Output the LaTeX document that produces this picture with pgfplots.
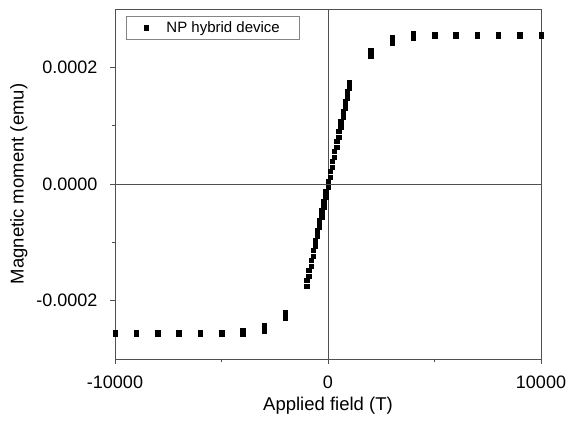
\documentclass[border=0pt]{standalone}
\usepackage{fontspec}
\setmainfont{Liberation Sans}
\usepackage{pgfplots}
\pgfplotsset{compat=1.18}
\definecolor{frame}{RGB}{80,80,80}

\begin{document}
\begin{tikzpicture}
\begin{axis}[
    name=ax,
    scale only axis,
    width=426pt, height=350pt,
    xmin=-10000, xmax=10000,
    ymin=-0.0003, ymax=0.0003,
    xtick={-10000,0,10000},
    minor xtick={-5000,5000},
    ytick={-0.0002,0,0.0002},
    minor ytick={-0.0001,0.0001},
    scaled x ticks=false, scaled y ticks=false,
    xticklabel style={/pgf/number format/1000 sep={}, yshift=-8pt},
    yticklabel style={/pgf/number format/.cd, fixed, fixed zerofill, precision=4,
        /tikz/.cd, xshift=-9pt},
    /pgf/number format/assume math mode=true,
    tick align=outside, tick pos=left,
    major tick length=5pt, minor tick length=3pt,
    axis line style={frame, line width=0.9pt},
    every tick/.style={frame, line width=0.9pt},
    tick label style={font=\fontsize{18}{21}\selectfont},
    label style={font=\fontsize{18.5}{22}\selectfont},
    xlabel={Applied field (T)},
    ylabel={Magnetic moment (emu)},
    xlabel style={yshift=-2pt},
    ylabel style={yshift=2pt},
    legend style={at={(axis description cs:0.026,0.98)}, anchor=north west,
        draw=frame!70, line width=0.8pt, font=\fontsize{15}{18}\selectfont,
        inner xsep=6pt, inner ysep=3.5pt,
        /tikz/every odd column/.append style={column sep=4pt}},
    legend cell align=left,
    legend image code/.code={\path[draw=none,fill=none] (0pt,0pt) -- (28pt,0pt);
        \draw[mark repeat=2,mark phase=2,#1]
        plot coordinates {(0pt,0pt)(14pt,0pt)(28pt,0pt)};},
    clip=false,
]
\draw[frame, line width=0.9pt] (axis cs:-10000,0) -- (axis cs:10000,0);
\draw[frame, line width=0.9pt] (axis cs:0,-0.0003) -- (axis cs:0,0.0003);

\addplot[only marks, mark=square*, mark size=2.2pt, black] coordinates {
(10000,2.565e-4)(9000,2.565e-4)(8000,2.565e-4)(7000,2.565e-4)(6000,2.565e-4)
(5000,2.565e-4)(4000,2.575e-4)(3000,2.515e-4)(2000,2.29e-4)
(1000,1.75e-4)(900,1.58e-4)(800,1.41e-4)(700,1.24e-4)(600,1.07e-4)
(500,0.90e-4)(400,0.73e-4)(300,0.56e-4)(200,0.39e-4)(100,0.22e-4)
(0,0.05e-4)(-100,-0.12e-4)(-200,-0.29e-4)(-300,-0.46e-4)(-400,-0.63e-4)
(-500,-0.80e-4)(-600,-0.97e-4)(-700,-1.14e-4)(-800,-1.31e-4)(-900,-1.48e-4)
(-1000,-1.65e-4)(-2000,-2.20e-4)(-3000,-2.42e-4)(-4000,-2.51e-4)
(-5000,-2.545e-4)(-6000,-2.545e-4)(-7000,-2.545e-4)(-8000,-2.545e-4)
(-9000,-2.545e-4)(-10000,-2.545e-4)
(-10000,-2.565e-4)(-9000,-2.565e-4)(-8000,-2.565e-4)(-7000,-2.565e-4)
(-6000,-2.565e-4)(-5000,-2.565e-4)(-4000,-2.575e-4)(-3000,-2.515e-4)
(-2000,-2.29e-4)
(-1000,-1.75e-4)(-900,-1.58e-4)(-800,-1.41e-4)(-700,-1.24e-4)(-600,-1.07e-4)
(-500,-0.90e-4)(-400,-0.73e-4)(-300,-0.56e-4)(-200,-0.39e-4)(-100,-0.22e-4)
(0,-0.05e-4)(100,0.12e-4)(200,0.29e-4)(300,0.46e-4)(400,0.63e-4)
(500,0.80e-4)(600,0.97e-4)(700,1.14e-4)(800,1.31e-4)(900,1.48e-4)
(1000,1.65e-4)(2000,2.20e-4)(3000,2.42e-4)(4000,2.51e-4)
(5000,2.545e-4)(6000,2.545e-4)(7000,2.545e-4)(8000,2.545e-4)
(9000,2.545e-4)(10000,2.545e-4)
};
\addlegendentry{NP hybrid device\kern12pt}
\end{axis}
\pgfresetboundingbox
\path[use as bounding box] ([xshift=-115pt,yshift=-68pt]ax.south west)
    rectangle ([xshift=26pt,yshift=9pt]ax.north east);
\end{tikzpicture}
\end{document}
